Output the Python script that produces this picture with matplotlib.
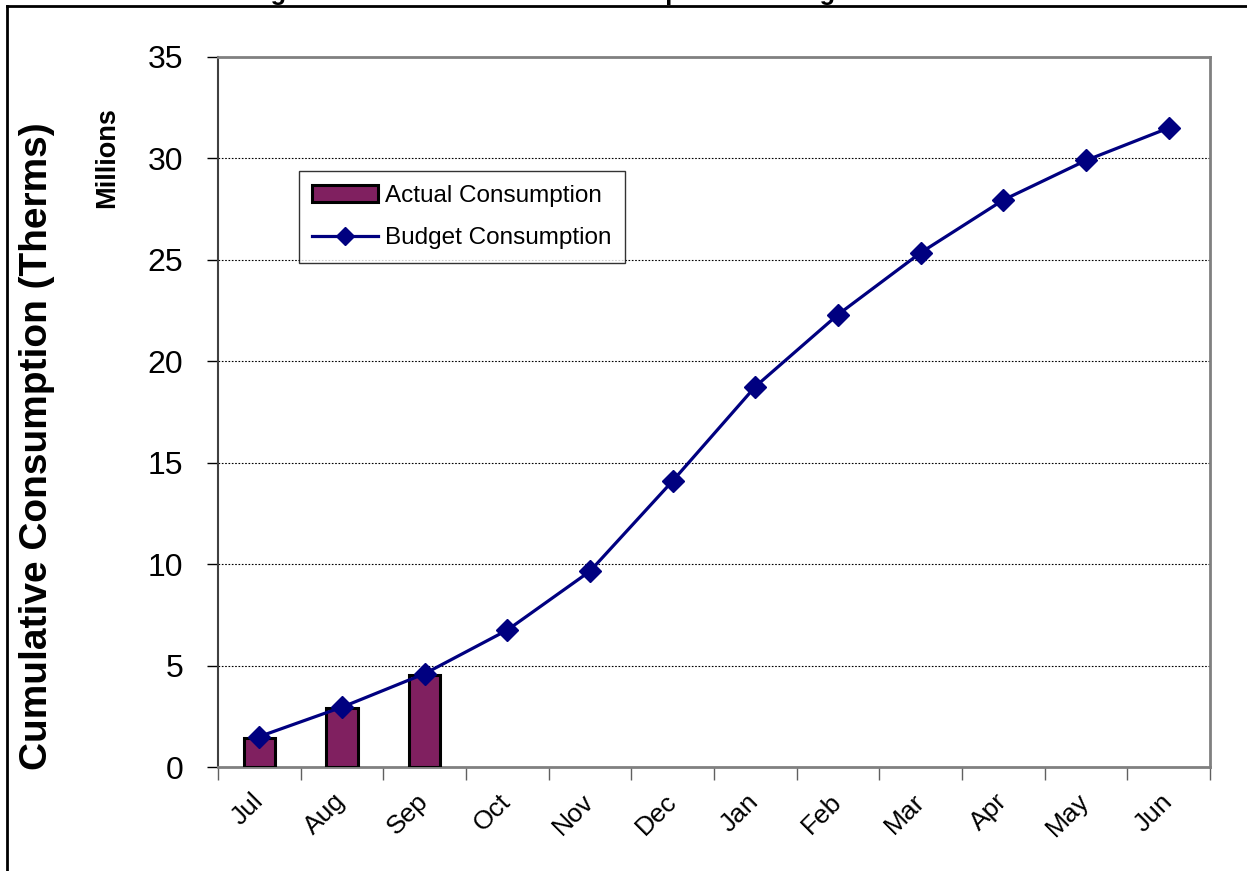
import matplotlib
matplotlib.use('Agg')
import matplotlib.pyplot as plt
from matplotlib.lines import Line2D
from matplotlib.patches import Patch
import numpy as np

plt.rcParams['font.family'] = ['Liberation Sans', 'DejaVu Sans']

months = ['Jul', 'Aug', 'Sep', 'Oct', 'Nov', 'Dec',
          'Jan', 'Feb', 'Mar', 'Apr', 'May', 'Jun']
# cumulative therms, millions
actual = [1.45, 2.9, 4.55]
budget = [1.5, 2.95, 4.6, 6.75, 9.65, 14.1, 18.75, 22.3, 25.35, 27.95, 29.9, 31.5]
y_ticks = [0, 5, 10, 15, 20, 25, 30, 35]

bar_color = '#802060'
line_color = '#000080'

fig = plt.figure(figsize=(12.47, 8.71), dpi=100)
ax = fig.add_axes([0.1748, 0.1194, 0.7955, 0.8152])

x = np.arange(len(months))
ax.bar(x[:len(actual)], actual, width=0.38, color=bar_color,
       edgecolor='black', linewidth=2.2, zorder=3)
ax.plot(x, budget, color=line_color, linewidth=2.3, marker='D',
        markersize=11, zorder=4)

ax.set_xlim(-0.5, len(months) - 0.5)
ax.set_ylim(0, 35)
ax.set_yticks(y_ticks)
ax.tick_params(axis='y', labelsize=23, length=8, width=1, pad=17,
               direction='out')

# category labels centred, tick marks on the boundaries
ax.set_xticks(x)
ax.set_xticklabels(months, rotation=45, ha='right', va='center',
                   rotation_mode='anchor', fontsize=19)
ax.tick_params(axis='x', which='major', length=0, pad=22)
ax.set_xticks(np.arange(-0.5, len(months)), minor=True)
ax.tick_params(axis='x', which='minor', length=9, width=1, color='#606060',
               direction='out')

ax.yaxis.grid(True, color='black', linestyle=(0, (1.5, 1.5)), linewidth=0.8)
ax.set_axisbelow(True)

for side in ['top', 'right', 'bottom']:
    ax.spines[side].set_color('#808080')
    ax.spines[side].set_linewidth(2)
ax.spines['left'].set_color('#404040')
ax.spines['left'].set_linewidth(1.5)

handles = [
    Patch(facecolor=bar_color, edgecolor='black', linewidth=2.2),
    Line2D([0], [0], color=line_color, linewidth=2.3, marker='D', markersize=9),
]
labels = ['Actual Consumption', 'Budget Consumption']
leg = ax.legend(handles, labels, loc='upper left', bbox_to_anchor=(0.0817, 0.839),
                borderaxespad=0, fontsize=17.5, frameon=True, fancybox=False,
                handlelength=2.7, handletextpad=0.3, labelspacing=0.85,
                borderpad=0.55)
leg.get_frame().set_edgecolor('black')
leg.get_frame().set_linewidth(1)

fig.text(0.0297, 0.488, 'Cumulative Consumption (Therms)', rotation=90,
         fontsize=28, fontweight='bold', ha='center', va='center')
fig.text(0.0858, 0.8186, 'Millions', rotation=90, fontsize=19.5,
         fontweight='bold', ha='center', va='center')

# heading sits above the page frame, only its lower edge shows
fig.text(0.4435, 1.0, 'Figure 3: Cumulative Gas Consumption vs Budget',
         fontsize=18.4, fontweight='bold', ha='center', va='baseline')

# page frame
fig.add_artist(Line2D([7 / 1247, 7 / 1247], [0, 1 - 6 / 871],
                      transform=fig.transFigure, color='black', linewidth=2))
fig.add_artist(Line2D([7 / 1247, 1], [1 - 6 / 871, 1 - 6 / 871],
                      transform=fig.transFigure, color='black', linewidth=2))

fig.savefig('out.png', dpi=100)
